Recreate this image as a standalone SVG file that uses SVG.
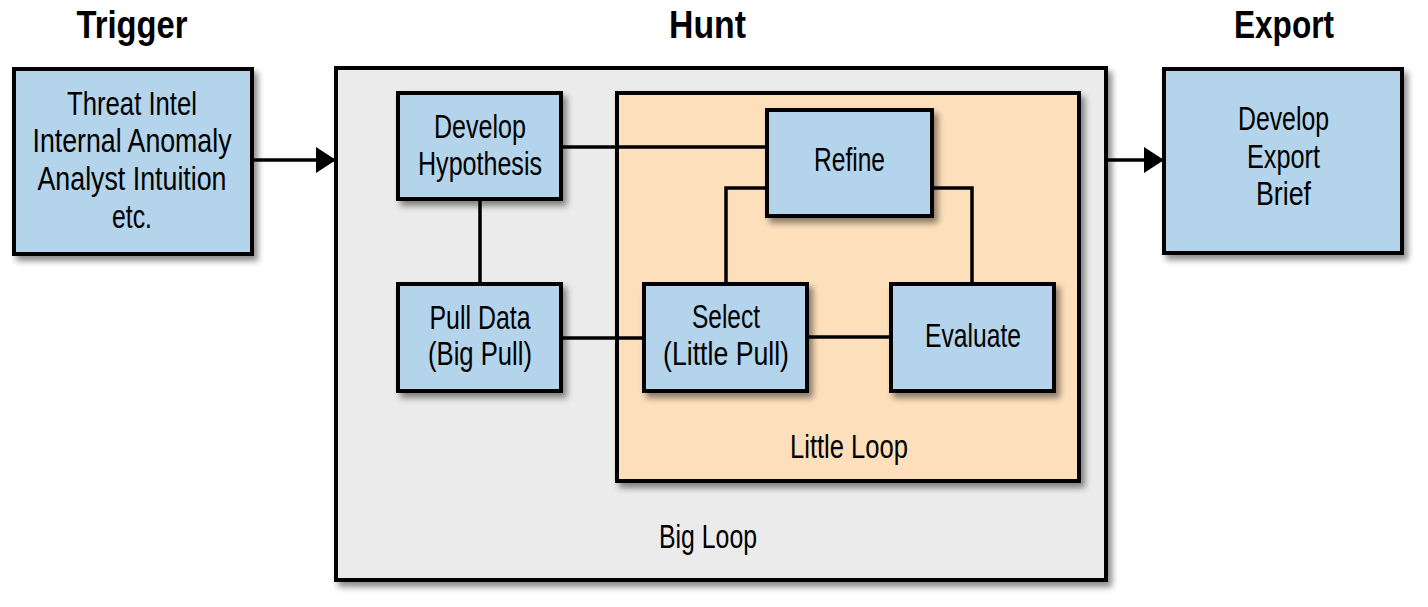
<svg xmlns="http://www.w3.org/2000/svg" width="1428" height="607" viewBox="0 0 1428 607">
<defs>
<filter id="sh" x="-10%" y="-10%" width="125%" height="130%">
<feDropShadow dx="4" dy="5" stdDeviation="3" flood-color="#000" flood-opacity="0.45"/>
</filter>
<marker id="arr" markerWidth="20" markerHeight="26" refX="20" refY="13" orient="auto" markerUnits="userSpaceOnUse">
<path d="M0,0 L20,13 L0,26 Z" fill="#000"/>
</marker>
<style>
.box{stroke:#000;stroke-width:4;filter:url(#sh)}
.blue{fill:#b3d4ea}
.gray{fill:#ebebeb}
.peach{fill:#fddfbb}
.t{font-family:"Liberation Sans",Arial,sans-serif;font-size:33px;fill:#000;text-anchor:middle}
.h{font-family:"Liberation Sans",Arial,sans-serif;font-size:39px;font-weight:bold;fill:#000;text-anchor:middle}
.c{stroke:#000;stroke-width:3.5;fill:none}
</style>
</defs>
<rect width="1428" height="607" fill="#fff"/>

<g id="titles">
<text class="h" x="132" y="38" textLength="111" lengthAdjust="spacingAndGlyphs">Trigger</text>
<text class="h" x="707.5" y="38" textLength="77" lengthAdjust="spacingAndGlyphs">Hunt</text>
<text class="h" x="1284" y="38" textLength="100" lengthAdjust="spacingAndGlyphs">Export</text>
</g>

<g id="big-loop">
<rect class="box gray" x="336" y="68" width="770" height="512"/>
<text class="t" x="708" y="548" textLength="98" lengthAdjust="spacingAndGlyphs">Big Loop</text>
</g>

<g id="little-loop">
<rect class="box peach" x="617" y="93" width="462" height="388"/>
<text class="t" x="849" y="458" textLength="118" lengthAdjust="spacingAndGlyphs">Little Loop</text>
</g>

<g id="connectors">
<line class="c" x1="252" y1="160" x2="336" y2="160" marker-end="url(#arr)"/>
<line class="c" x1="1106" y1="160" x2="1164" y2="160" marker-end="url(#arr)"/>
<line class="c" x1="561" y1="147" x2="767" y2="147"/>
<line class="c" x1="480" y1="199" x2="480" y2="284"/>
<line class="c" x1="561" y1="338" x2="644" y2="338"/>
<line class="c" x1="807" y1="337" x2="891" y2="337"/>
<polyline class="c" points="767,188 726,188 726,284"/>
<polyline class="c" points="932,188 972,188 972,284"/>
</g>

<g id="trigger">
<rect class="box blue" x="14" y="69" width="238" height="185"/>
<text class="t" x="132" y="115" textLength="130" lengthAdjust="spacingAndGlyphs">Threat Intel</text>
<text class="t" x="132" y="152" textLength="199" lengthAdjust="spacingAndGlyphs">Internal Anomaly</text>
<text class="t" x="132" y="190" textLength="189" lengthAdjust="spacingAndGlyphs">Analyst Intuition</text>
<text class="t" x="132" y="228" textLength="40" lengthAdjust="spacingAndGlyphs">etc.</text>
</g>

<g id="develop-hypothesis">
<rect class="box blue" x="398" y="93" width="163" height="106"/>
<text class="t" x="480" y="138" textLength="92" lengthAdjust="spacingAndGlyphs">Develop</text>
<text class="t" x="480" y="175" textLength="124" lengthAdjust="spacingAndGlyphs">Hypothesis</text>
</g>

<g id="pull-data">
<rect class="box blue" x="398" y="284" width="163" height="107"/>
<text class="t" x="480" y="329" textLength="101" lengthAdjust="spacingAndGlyphs">Pull Data</text>
<text class="t" x="480" y="365" textLength="104" lengthAdjust="spacingAndGlyphs">(Big Pull)</text>
</g>

<g id="refine">
<rect class="box blue" x="767" y="110" width="165" height="106"/>
<text class="t" x="849.5" y="171" textLength="71" lengthAdjust="spacingAndGlyphs">Refine</text>
</g>

<g id="select">
<rect class="box blue" x="644" y="284" width="163" height="107"/>
<text class="t" x="726" y="328" textLength="68" lengthAdjust="spacingAndGlyphs">Select</text>
<text class="t" x="726" y="365" textLength="126" lengthAdjust="spacingAndGlyphs">(Little Pull)</text>
</g>

<g id="evaluate">
<rect class="box blue" x="891" y="284" width="163" height="107"/>
<text class="t" x="973" y="347" textLength="96" lengthAdjust="spacingAndGlyphs">Evaluate</text>
</g>

<g id="export">
<rect class="box blue" x="1164" y="69" width="238" height="184"/>
<text class="t" x="1283.5" y="130" textLength="91" lengthAdjust="spacingAndGlyphs">Develop</text>
<text class="t" x="1283.5" y="168" textLength="73" lengthAdjust="spacingAndGlyphs">Export</text>
<text class="t" x="1283.5" y="205" textLength="55" lengthAdjust="spacingAndGlyphs">Brief</text>
</g>
</svg>
